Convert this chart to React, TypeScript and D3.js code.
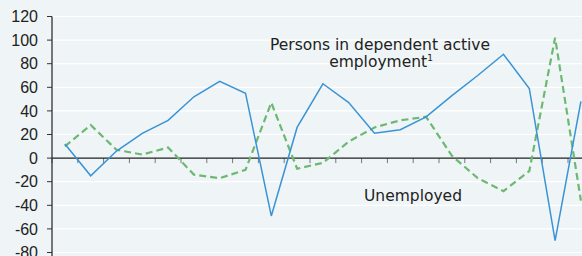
import React from "react";
import * as d3 from "d3";

const periods = ["P1","P2","P3","P4","P5","P6","P7","P8","P9","P10","P11","P12","P13","P14","P15","P16","P17","P18","P19","P20","P21"];
const employed = [12, -15, 6, 21, 32, 52, 65, 55, -49, 26, 63, 47, 21, 24, 35, 53, 70, 88, 59, -70, 48];
const unemployed = [10, 28, 7, 3, 9, -14, -17, -10, 47, -9, -4, 14, 26, 32, 35, 2, -17, -28, -11, 102, -36];
const yTicks = [-80, -60, -40, -20, 0, 20, 40, 60, 80, 100, 120];

const W = 582, H = 256;
const left = 52;
const step = 25.8;

export default function App() {
  const x = d3.scaleBand<string>().domain(periods).range([left, left + step * periods.length]).padding(0);
  const y = d3.scaleLinear().domain([-80, 120]).range([252.5, 16.5]);
  const cx = (p: string) => (x(p) as number) + x.bandwidth() / 2;
  const line = d3.line<number>().x((_, i) => cx(periods[i])).y((d) => y(d));
  const font = "'DejaVu Sans', sans-serif";
  return (
    <svg width={W} height={H} style={{ position: "absolute", left: 0, top: 0, background: "#eff5f6" }}>
      <rect x={0} y={0} width={W} height={H} fill="#eff5f6" />
      {yTicks.map((t) => (
        <g key={t}>
          {t !== 0 && <line x1={left} x2={W} y1={y(t)} y2={y(t)} stroke="#ffffff" strokeWidth={1.2} />}
          <line x1={left - 5} x2={left} y1={y(t)} y2={y(t)} stroke="#333" strokeWidth={1} />
          <text x={38} y={y(t)} dy="0.36em" textAnchor="end" fontFamily="'Liberation Sans', sans-serif" fontSize={16} fill="#222">{t}</text>
        </g>
      ))}
      {periods.map((p) => (
        <line key={p} x1={x(p) as number} x2={x(p) as number} y1={y(0)} y2={y(0) + 5} stroke="#777" strokeWidth={1} />
      ))}
      <line x1={left} x2={W} y1={y(0)} y2={y(0)} stroke="#222" strokeWidth={1.2} />
      <line x1={left} x2={left} y1={y(120)} y2={H} stroke="#222" strokeWidth={1.2} />
      <path d={line(unemployed) || ""} fill="none" stroke="#6db872" strokeWidth={2.2} strokeDasharray="7,4" />
      <path d={line(employed) || ""} fill="none" stroke="#3a93d4" strokeWidth={1.5} />
      <text x={380} y={50} textAnchor="middle" fontFamily={font} fontSize={15.5} fill="#222">Persons in dependent active</text>
      <text x={381} y={67} textAnchor="middle" fontFamily={font} fontSize={15.5} fill="#222">employment<tspan fontSize={9} dy={-6}>1</tspan></text>
      <text x={413} y={201} textAnchor="middle" fontFamily={font} fontSize={15.5} fill="#222">Unemployed</text>
    </svg>
  );
}
